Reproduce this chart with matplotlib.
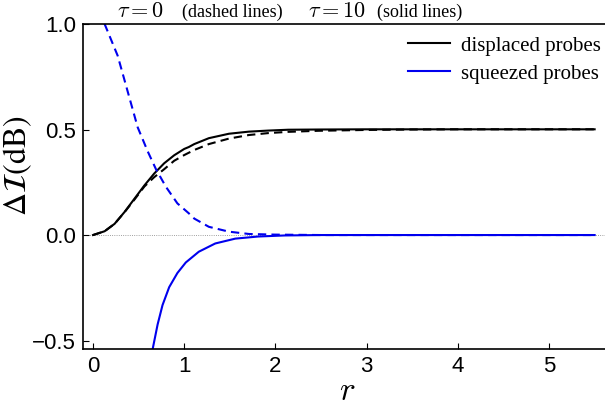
import matplotlib.pyplot as plt
import numpy as np

plt.rcParams["mathtext.fontset"] = "cm"

# values
r_disp10 = [0.0, 0.127, 0.236, 0.345, 0.454, 0.563, 0.67, 0.78, 0.89, 1.0, 1.05, 1.11, 1.27,
            1.49, 1.71, 1.92, 2.14, 2.47, 3.0, 4.0, 5.5]
disp_tau10 = [0.0, 0.018, 0.053, 0.109, 0.172, 0.235, 0.291, 0.34, 0.378, 0.408, 0.417, 0.431,
              0.459, 0.48, 0.49, 0.495, 0.499, 0.5, 0.501, 0.501, 0.501]

r_disp0 = [0.0, 0.127, 0.236, 0.345, 0.454, 0.563, 0.67, 0.78, 0.89, 1.0, 1.05, 1.11, 1.27,
           1.49, 1.71, 1.92, 2.14, 2.47, 3.0, 3.5, 4.0, 5.5]
disp_tau0 = [0.0, 0.018, 0.053, 0.108, 0.168, 0.23, 0.274, 0.312, 0.352, 0.379, 0.39, 0.403,
             0.431, 0.457, 0.474, 0.483, 0.489, 0.494, 0.498, 0.5, 0.501, 0.501]

r_sq0 = [0.0, 0.127, 0.27, 0.38, 0.49, 0.60, 0.69, 0.80, 0.925, 1.05, 1.11, 1.27, 1.49, 1.71,
         2.0, 2.5, 3.0, 4.0, 5.5]
sq_tau0 = [1.12, 1.0, 0.85, 0.68, 0.51, 0.396, 0.312, 0.228, 0.15, 0.103, 0.078, 0.039, 0.016,
           0.005, 0.002, 0.0, 0.0, 0.0, 0.0]

r_sq10 = [0.55, 0.6, 0.653, 0.708, 0.762, 0.835, 0.925, 1.017, 1.16, 1.34, 1.56, 1.81, 2.1,
          2.5, 3.0, 4.0, 5.5]
sq_tau10 = [-0.9, -0.7, -0.542, -0.424, -0.332, -0.247, -0.18, -0.13, -0.079, -0.04, -0.017,
            -0.007, -0.002, 0.0, 0.0, 0.0, 0.0]

fig = plt.figure(figsize=(6.05, 4.09), dpi=100)
ax = fig.add_axes([83 / 605, 1 - 349 / 409, 1.0 - 83 / 605 + 0.01, 325 / 409])

blue = "#0000ee"
ax.axhline(0, color="gray", lw=0.6, ls=":", zorder=1)
ax.plot(r_disp10, disp_tau10, color="black", lw=1.5)
ax.plot(r_disp0, disp_tau0, color="black", lw=1.5, ls=(0, (4, 2.5)))
ax.plot(r_sq10, sq_tau10, color=blue, lw=1.5)
ax.plot(r_sq0, sq_tau0, color=blue, lw=1.5, ls=(0, (4, 2.5)))

ax.set_xlim(-0.11, 5.68)
ax.set_ylim(-0.54, 1.0)
ax.set_xticks([0, 1, 2, 3, 4, 5])
ax.set_yticks([-0.5, 0.0, 0.5, 1.0])
ax.tick_params(direction="in", length=4, width=0.8, labelsize=16, pad=5)
for lab in ax.get_xticklabels() + ax.get_yticklabels():
    lab.set_family("Liberation Sans")
ax.spines["right"].set_visible(False)
for s in ["left", "bottom", "top"]:
    ax.spines[s].set_linewidth(1.2)

ax.set_xlabel(r"$r$", fontsize=24, labelpad=-2)
fig.text(18 / 605, 1 - 166 / 409, r"$\Delta\mathcal{I}(\mathrm{dB})$", fontsize=23,
         rotation=90, ha="center", va="center", math_fontfamily="stix")

ax.plot([], [], color="black", lw=1.5, label="displaced probes")
ax.plot([], [], color=blue, lw=1.5, label="squeezed probes")
handles, labels = ax.get_legend_handles_labels()
ax.legend(handles[-2:], labels[-2:], loc="upper right", bbox_to_anchor=(601 / 605, 1 - 36 / 409),
          bbox_transform=fig.transFigure, frameon=False, handlelength=2.0, handletextpad=0.55,
          labelspacing=0.4, borderaxespad=0, borderpad=0,
          prop={"family": "Liberation Serif", "size": 15})

fig.text(117 / 605, 1 - 17 / 409, r"$\tau = 0$", fontsize=16, va="baseline")
fig.text(182 / 605, 1 - 17 / 409, "(dashed lines)", fontsize=13, va="baseline", family="Liberation Serif")
fig.text(308 / 605, 1 - 17 / 409, r"$\tau = 10$", fontsize=16, va="baseline")
fig.text(377 / 605, 1 - 17 / 409, "(solid lines)", fontsize=13, va="baseline", family="Liberation Serif")

fig.savefig("out.png", dpi=100)
